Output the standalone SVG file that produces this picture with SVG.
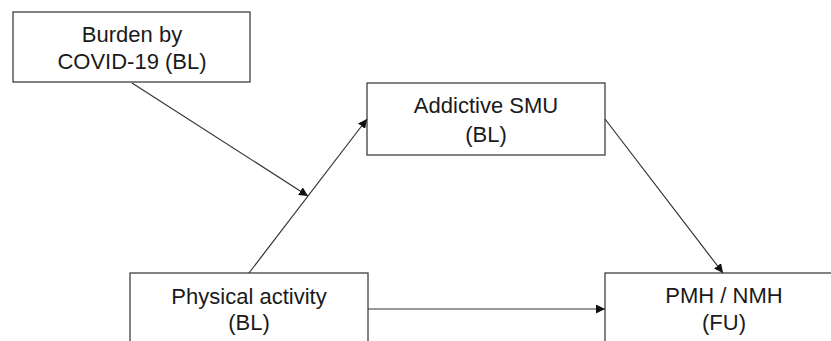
<svg xmlns="http://www.w3.org/2000/svg" width="831" height="341" viewBox="0 0 831 341">
<style>
.box{fill:#fff;stroke:#404040;stroke-width:1.3}
.t{font-family:"Liberation Sans",Arial,sans-serif;font-size:22px;fill:#1a1a1a;text-anchor:middle}
.c{stroke:#333;stroke-width:1.2;fill:none;marker-end:url(#ah)}
</style>
<defs>
<marker id="ah" viewBox="0 0 10 10" refX="10" refY="5" markerWidth="9" markerHeight="9" markerUnits="userSpaceOnUse" orient="auto">
<path d="M0,0 L10,5 L0,10 z" fill="#111"/>
</marker>
</defs>
<rect width="831" height="341" fill="#fff"/>
<g id="burden">
<rect class="box" x="13" y="12" width="237" height="70"/>
<text class="t" x="132" y="42">Burden by</text>
<text class="t" x="132" y="69">COVID-19 (BL)</text>
</g>
<g id="smu">
<rect class="box" x="367" y="83" width="238" height="72"/>
<text class="t" x="486" y="113">Addictive SMU</text>
<text class="t" x="486" y="142">(BL)</text>
</g>
<g id="pa">
<rect class="box" x="130" y="273" width="238" height="90"/>
<text class="t" x="249" y="304">Physical activity</text>
<text class="t" x="249" y="330">(BL)</text>
</g>
<g id="pmh">
<rect class="box" x="605" y="273" width="238" height="90"/>
<text class="t" x="724" y="303">PMH / NMH</text>
<text class="t" x="724" y="330">(FU)</text>
</g>
<g id="connectors">
<line class="c" x1="132" y1="83" x2="308" y2="196"/>
<line class="c" x1="249" y1="273" x2="367" y2="119"/>
<line class="c" x1="605" y1="119" x2="723" y2="273"/>
<line class="c" x1="368" y1="309" x2="605" y2="309"/>
</g>
</svg>
